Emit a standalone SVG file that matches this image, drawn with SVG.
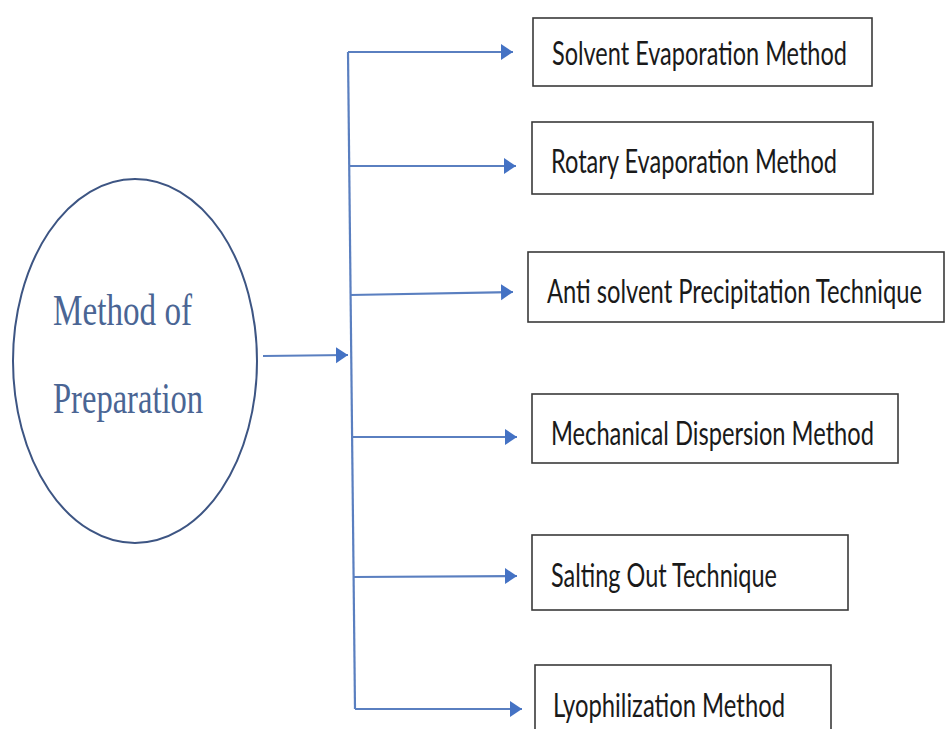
<svg xmlns="http://www.w3.org/2000/svg" width="945" height="729" viewBox="0 0 945 729">
<style>
.box{fill:#fff;stroke:#3a3a3a;stroke-width:1.6}
.lbl{font-family:Lato,"Open Sans","Liberation Sans",sans-serif;font-size:27px;fill:#1a1a1a}
.conn{stroke:#5a7fc0;stroke-width:2.2;fill:none}
.ttl{font-family:"Liberation Serif","Times New Roman",serif;font-size:45px;fill:#4a6594}
</style>
<defs>
<marker id="ah" markerUnits="userSpaceOnUse" markerWidth="14" markerHeight="18" refX="12" refY="8" orient="auto">
<path d="M0,0 L12,8 L0,16 Z" fill="#4472c4"/>
</marker>
</defs>
<rect width="945" height="729" fill="#fff"/>
<g id="center">
<ellipse cx="135" cy="361" rx="122" ry="182" fill="#fff" stroke="#3d5583" stroke-width="2"/>
<text class="ttl" x="53" y="325" textLength="139" lengthAdjust="spacingAndGlyphs">Method of</text>
<text class="ttl" x="53" y="413" textLength="150" lengthAdjust="spacingAndGlyphs">Preparation</text>
</g>
<g id="connectors">
<line class="conn" x1="263" y1="356" x2="348" y2="355" marker-end="url(#ah)"/>
<line class="conn" x1="348" y1="52" x2="355" y2="709"/>
<line class="conn" x1="348" y1="52" x2="513" y2="52" marker-end="url(#ah)"/>
<line class="conn" x1="349" y1="166" x2="516" y2="166" marker-end="url(#ah)"/>
<line class="conn" x1="350" y1="295" x2="513" y2="292" marker-end="url(#ah)"/>
<line class="conn" x1="352" y1="437" x2="517" y2="437" marker-end="url(#ah)"/>
<line class="conn" x1="353" y1="577" x2="517" y2="576" marker-end="url(#ah)"/>
<line class="conn" x1="355" y1="709" x2="522" y2="709" marker-end="url(#ah)"/>
</g>
<g id="n1">
<rect class="box" x="533" y="18" width="339" height="68"/>
<text class="lbl" transform="translate(552,65) scale(1,1.22)" textLength="295" lengthAdjust="spacingAndGlyphs">Solvent Evaporation Method</text>
</g>
<g id="n2">
<rect class="box" x="532" y="122" width="341" height="72"/>
<text class="lbl" transform="translate(551,173) scale(1,1.22)" textLength="286" lengthAdjust="spacingAndGlyphs">Rotary Evaporation Method</text>
</g>
<g id="n3">
<rect class="box" x="528" y="252" width="416" height="70"/>
<text class="lbl" style="font-size:24px" transform="translate(547,303) scale(1,1.37)" textLength="375" lengthAdjust="spacingAndGlyphs">Anti solvent Precipitation Technique</text>
</g>
<g id="n4">
<rect class="box" x="532" y="394" width="366" height="69"/>
<text class="lbl" transform="translate(551,445) scale(1,1.22)" textLength="323" lengthAdjust="spacingAndGlyphs">Mechanical Dispersion Method</text>
</g>
<g id="n5">
<rect class="box" x="532" y="535" width="316" height="75"/>
<text class="lbl" transform="translate(551,587) scale(1,1.22)" textLength="226" lengthAdjust="spacingAndGlyphs">Salting Out Technique</text>
</g>
<g id="n6">
<rect class="box" x="535" y="665" width="296" height="80"/>
<text class="lbl" transform="translate(553,717) scale(1,1.22)" textLength="232" lengthAdjust="spacingAndGlyphs">Lyophilization Method</text>
</g>
</svg>
